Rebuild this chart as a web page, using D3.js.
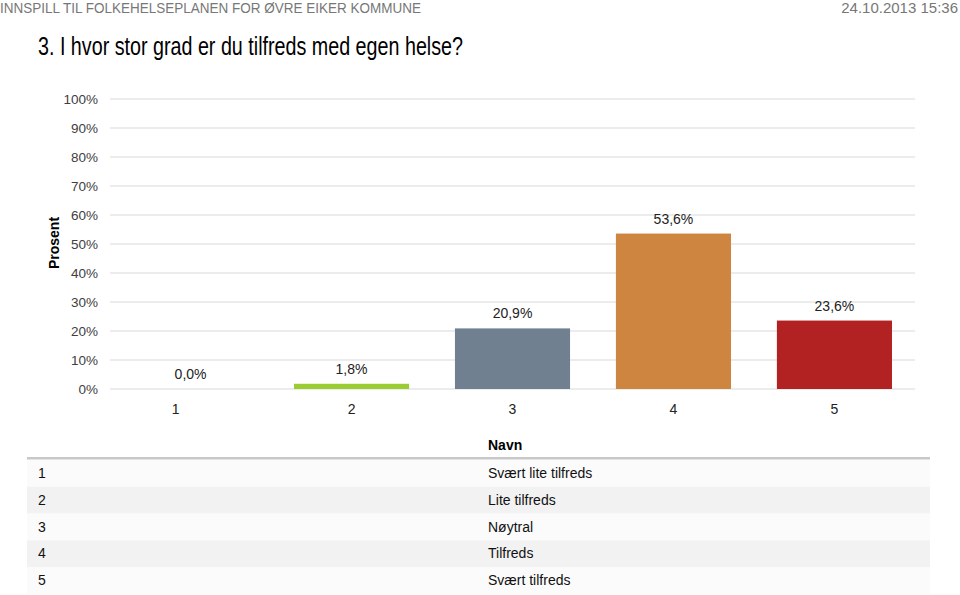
<!DOCTYPE html>
<html><head><meta charset="utf-8">
<script src="https://cdn.jsdelivr.net/npm/d3@7"></script>
<style>
body{margin:0;background:#fff;}
text{font-family:"Liberation Sans",sans-serif;}
</style></head>
<body><svg id="c" width="960" height="595"></svg>
<script>
const categories = ["1","2","3","4","5"];
const values = [0.0, 1.8, 20.9, 53.6, 23.6];
const valueLabels = ["0,0%","1,8%","20,9%","53,6%","23,6%"];
const colors = ["#9ACD32","#9ACD32","#708090","#CD853F","#B22222"];
const yTicks = [0,10,20,30,40,50,60,70,80,90,100];
const tableNames = ["Svært lite tilfreds","Lite tilfreds","Nøytral","Tilfreds","Svært tilfreds"];

const svg = d3.select("#c");
svg.append("text").attr("x",0).attr("y",13).attr("font-size",15).attr("fill","#777")
  .attr("textLength",421).attr("lengthAdjust","spacingAndGlyphs")
  .text("INNSPILL TIL FOLKEHELSEPLANEN FOR ØVRE EIKER KOMMUNE");
svg.append("text").attr("x",958).attr("y",13).attr("font-size",15).attr("fill","#777")
  .attr("text-anchor","end").text("24.10.2013 15:36");
svg.append("text").attr("x",38).attr("y",55).attr("font-size",26).attr("fill","#000")
  .attr("textLength",425).attr("lengthAdjust","spacingAndGlyphs")
  .text("3. I hvor stor grad er du tilfreds med egen helse?");

const x = d3.scaleBand().domain(categories).range([110,915]).paddingInner(0.285).paddingOuter(0.143);
const y = d3.scaleLinear().domain([0,100]).range([389,99]);

const g = svg.append("g");
g.selectAll("line.grid").data(yTicks).join("line")
  .attr("x1",110).attr("x2",915).attr("y1",d=>y(d)).attr("y2",d=>y(d))
  .attr("stroke","#d9d9d9").attr("stroke-width",1);

const yAxis = d3.axisLeft(y).tickValues(yTicks).tickFormat(d=>d+"%").tickSize(0).tickPadding(12);
const ya = svg.append("g").attr("transform","translate(110,0)").call(yAxis);
ya.select(".domain").remove();
ya.selectAll("text").attr("font-size",13.5).attr("fill","#404040")
  .style("font-family",'"Liberation Sans",sans-serif');

svg.append("text").attr("transform","translate(59,243) rotate(-90)").attr("text-anchor","middle")
  .attr("font-size",14).attr("font-weight","bold").attr("fill","#000").text("Prosent");

g.selectAll("rect.bar").data(values).join("rect")
  .attr("x",(d,i)=>x(categories[i])).attr("width",x.bandwidth())
  .attr("y",d=>y(d)).attr("height",d=>y(0)-y(d)).attr("fill",(d,i)=>colors[i]);

g.selectAll("text.vl").data(values).join("text")
  .attr("x",(d,i)=>x(categories[i])+x.bandwidth()/2).attr("y",d=>y(d)-10)
  .attr("text-anchor","middle").attr("font-size",14).attr("fill","#222")
  .text((d,i)=>valueLabels[i]);

const xAxis = d3.axisBottom(x).tickSize(0).tickPadding(15);
const xa = svg.append("g").attr("transform","translate(0,389)").call(xAxis);
xa.select(".domain").remove();
xa.selectAll("text").attr("font-size",14).attr("fill","#222")
  .style("font-family",'"Liberation Sans",sans-serif');
xa.selectAll(".tick").filter(d=>d==="1").select("text").attr("dx",-15);

// table
svg.append("text").attr("x",488).attr("y",450).attr("font-size",14).attr("font-weight","bold").text("Navn");
svg.append("rect").attr("x",27).attr("y",457).attr("width",903).attr("height",2.5).attr("fill","#c8c8c8");
const rowH = 26.8;
tableNames.forEach((n,i)=>{
  const ry = 460 + i*rowH;
  svg.append("rect").attr("x",27).attr("y",ry).attr("width",903).attr("height",rowH)
    .attr("fill", i%2===0 ? "#fbfbfb" : "#f2f2f2");
  svg.append("text").attr("x",38).attr("y",ry+18).attr("font-size",14).attr("fill","#111").text(categories[i]);
  svg.append("text").attr("x",488).attr("y",ry+18).attr("font-size",14).attr("fill","#111").text(n);
});
</script></body></html>
